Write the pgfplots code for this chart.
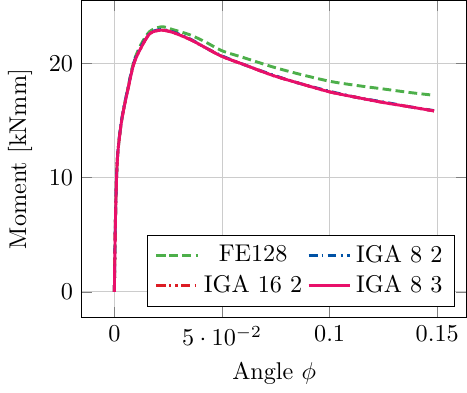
\documentclass[border=0pt]{standalone}
\usepackage{pgfplots}
\pgfplotsset{compat=1.18}
\definecolor{cgreen}{HTML}{4DAF4A}
\definecolor{cblue}{HTML}{0052A5}
\definecolor{cred}{HTML}{DC1C24}
\definecolor{cmag}{HTML}{E8106A}
\begin{document}
\begin{tikzpicture}
\begin{axis}[
  scale only axis,
  width=159pt, height=131pt,
  xmin=-0.0152, xmax=0.1636,
  ymin=-2.26, ymax=25.5,
  xtick={0,0.05,0.1,0.15},
  ytick={0,10,20},
  grid=major,
  grid style={gray!40},
  xlabel={Angle $\phi$},
  ylabel={Moment [kNmm]},
  legend columns=2,
  legend cell align=center,
  legend style={at={(0.97,0.035)}, anchor=south east},
]
\addplot[cgreen, very thick, dash pattern=on 3.6pt off 1.8pt, smooth] coordinates {
(0,0)(0.0005,6.3)(0.0014,11.6)(0.0034,15.0)(0.0065,18.0)(0.0091,20.2)(0.0125,21.7)(0.0165,22.8)(0.022,23.2)(0.0272,22.95)(0.035,22.5)(0.042,21.9)(0.05,21.1)(0.06,20.5)(0.0733,19.7)(0.085,19.1)(0.1,18.43)(0.113,18.05)(0.1255,17.74)(0.137,17.45)(0.1485,17.2)
};
\addlegendentry{FE128}
\addplot[cblue, very thick, dash pattern=on 3.6pt off 1.8pt on 0.7pt off 1.8pt, smooth] coordinates {
(0,0)(0.0005,6.4)(0.0014,11.7)(0.0034,15.1)(0.0065,18.0)(0.0091,20.1)(0.0125,21.5)(0.0165,22.65)(0.0217,22.95)(0.0272,22.75)(0.035,22.15)(0.042,21.4)(0.05,20.65)(0.06,19.9)(0.0733,19.0)(0.085,18.3)(0.1,17.55)(0.113,17.0)(0.1255,16.6)(0.137,16.2)(0.1485,15.86)
};
\addlegendentry{IGA 8 2}
\addplot[cred, very thick, dash pattern=on 3.6pt off 1.8pt on 0.7pt off 1.8pt on 0.7pt off 1.8pt, smooth] coordinates {
(0,0)(0.0005,6.3)(0.0014,11.6)(0.0034,15.0)(0.0065,17.9)(0.0091,20.0)(0.0125,21.4)(0.0165,22.6)(0.0217,22.9)(0.0272,22.7)(0.035,22.1)(0.042,21.4)(0.05,20.6)(0.06,19.9)(0.0733,18.96)(0.085,18.3)(0.1,17.5)(0.113,17.0)(0.1255,16.55)(0.137,16.2)(0.1485,15.83)
};
\addlegendentry{IGA 16 2}
\addplot[cmag, very thick, smooth] coordinates {
(0,0)(0.0005,6.3)(0.0014,11.6)(0.0034,15.0)(0.0065,17.9)(0.0091,20.0)(0.0125,21.4)(0.0165,22.6)(0.0217,22.9)(0.0272,22.7)(0.035,22.1)(0.042,21.4)(0.05,20.6)(0.06,19.9)(0.0733,18.96)(0.085,18.3)(0.1,17.5)(0.113,17.0)(0.1255,16.55)(0.137,16.2)(0.1485,15.83)
};
\addlegendentry{IGA 8 3}
\end{axis}
\end{tikzpicture}
\end{document}
